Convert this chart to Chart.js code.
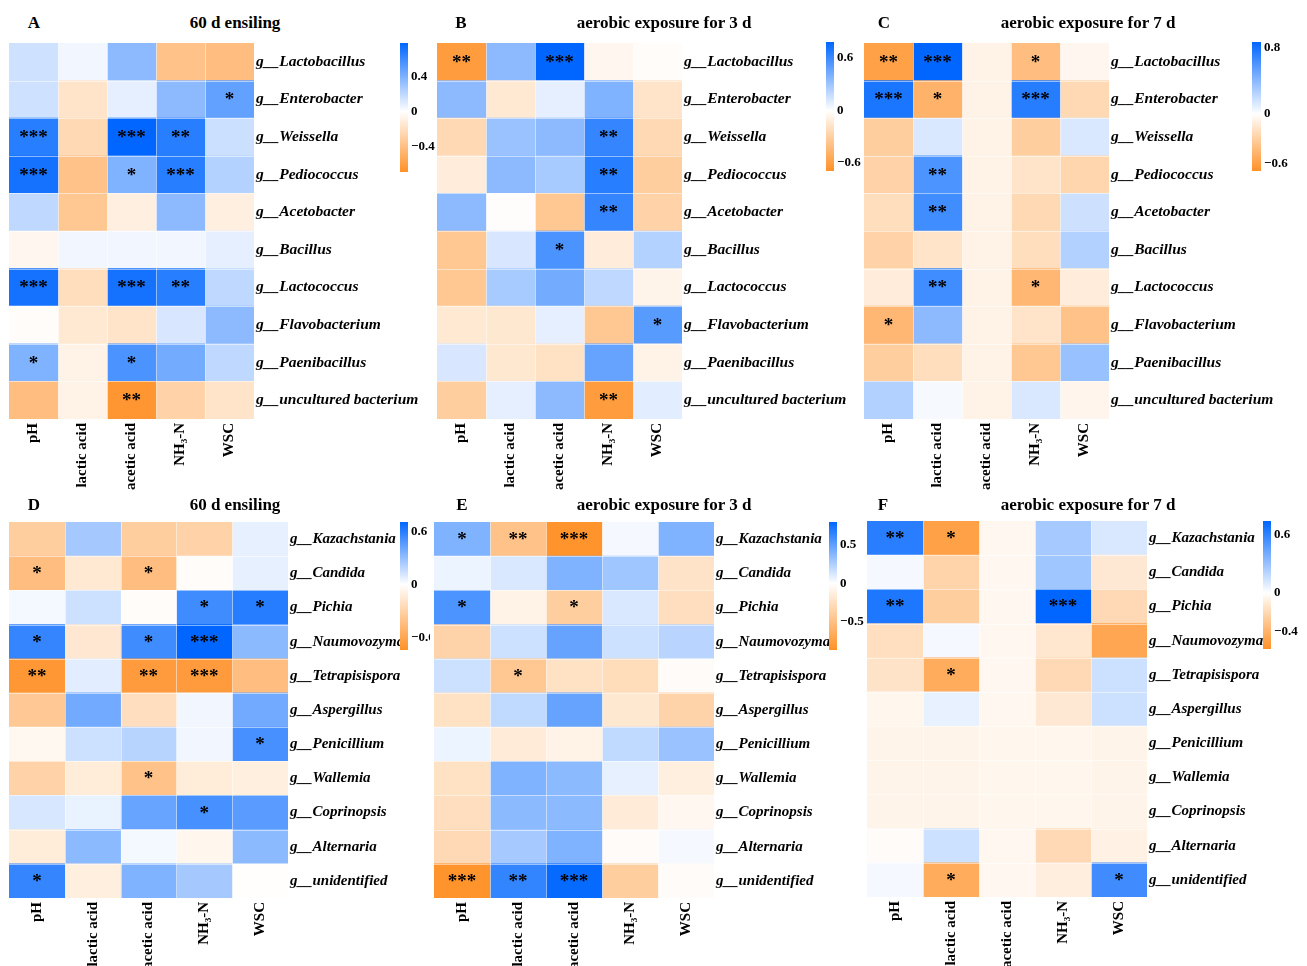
<!DOCTYPE html>
<html>
<head>
<meta charset="utf-8">
<script src="https://cdn.jsdelivr.net/npm/chart.js@4.4.1/dist/chart.umd.min.js"></script>
<style>
  html, body { margin: 0; padding: 0; background: #fff; overflow: hidden; width: 1307px; height: 966px; }
  #fig { position: relative; width: 1307px; height: 966px; overflow: hidden; }
  #fig canvas { position: absolute; }
  .txt { position: absolute; font-family: "Liberation Serif", "Times New Roman", serif; font-weight: bold;
         font-size: 17px; line-height: 20px; white-space: nowrap; transform: translate(-50%, -50%); color: #000; }
</style>
</head>
<body>
<div id="fig"></div>
<script>
// ---- environmental factors (columns) ----
const envCols = ["pH", "lactic acid", "acetic acid", "NH₃-N", "WSC"];

// ---- genera (rows) ----
const bacteriaRows = ["g__Lactobacillus", "g__Enterobacter", "g__Weissella", "g__Pediococcus", "g__Acetobacter",
  "g__Bacillus", "g__Lactococcus", "g__Flavobacterium", "g__Paenibacillus", "g__uncultured bacterium"];
const fungiRows = ["g__Kazachstania", "g__Candida", "g__Pichia", "g__Naumovozyma", "g__Tetrapisispora",
  "g__Aspergillus", "g__Penicillium", "g__Wallemia", "g__Coprinopsis", "g__Alternaria", "g__unidentified"];

// ---- Spearman correlation coefficients (rows x columns) ----
const bacSilage = [
  [0.15, 0.04, 0.35, -0.38, -0.41],
  [0.15, -0.17, 0.08, 0.35, 0.48],
  [0.66, -0.24, 0.78, 0.66, 0.16],
  [0.72, -0.38, 0.39, 0.66, 0.23],
  [0.20, -0.35, -0.10, 0.35, -0.10],
  [-0.05, 0.04, 0.04, 0.04, 0.08],
  [0.72, -0.21, 0.72, 0.66, 0.20],
  [-0.02, -0.14, -0.17, 0.12, 0.35],
  [0.39, -0.08, 0.55, 0.43, 0.20],
  [-0.41, -0.08, -0.66, -0.28, -0.17]
];
const bacAerobic3 = [
  [-0.62, 0.35, 0.78, -0.05, -0.02],
  [0.35, -0.14, 0.08, 0.39, -0.17],
  [-0.24, 0.31, 0.35, 0.62, -0.24],
  [-0.12, 0.35, 0.27, 0.66, -0.31],
  [0.35, -0.01, -0.35, 0.62, -0.28],
  [-0.35, 0.12, 0.55, -0.12, 0.23],
  [-0.35, 0.27, 0.43, 0.20, -0.07],
  [-0.14, -0.15, 0.08, -0.35, 0.51],
  [0.12, -0.15, -0.19, 0.47, -0.08],
  [-0.31, 0.08, 0.35, -0.62, 0.09]
];
const bacAerobic7 = [
  [-0.59, 0.87, -0.08, -0.41, -0.05],
  [0.78, -0.48, -0.08, 0.74, -0.24],
  [-0.31, 0.13, -0.08, -0.31, 0.13],
  [-0.28, 0.61, -0.08, -0.17, -0.26],
  [-0.21, 0.65, -0.08, -0.24, 0.17],
  [-0.28, -0.17, -0.08, -0.21, 0.26],
  [-0.12, 0.65, -0.08, -0.45, -0.12],
  [-0.45, 0.39, -0.08, -0.17, -0.38],
  [-0.31, -0.21, -0.08, -0.35, 0.35],
  [0.26, 0.03, -0.08, 0.13, -0.06]
];
const funSilage = [
  [-0.33, 0.25, -0.33, -0.30, 0.07],
  [-0.44, -0.15, -0.44, -0.02, 0.07],
  [0.03, 0.14, -0.02, 0.53, 0.60],
  [0.56, -0.16, 0.53, 0.705, 0.32],
  [-0.70, 0.08, -0.67, -0.67, -0.44],
  [-0.37, 0.39, -0.22, 0.035, 0.39],
  [-0.05, 0.14, 0.20, 0.035, 0.51],
  [-0.30, -0.13, -0.41, -0.13, -0.11],
  [0.11, 0.06, 0.42, 0.51, 0.46],
  [-0.13, 0.32, 0.03, -0.06, 0.32],
  [0.56, -0.11, 0.35, 0.25, -0.01]
];
const funAerobic3 = [
  [0.40, -0.48, -0.85, 0.03, 0.40],
  [0.06, 0.12, 0.40, 0.30, -0.22],
  [0.56, -0.10, -0.39, 0.12, -0.26],
  [-0.35, 0.16, 0.48, 0.16, 0.22],
  [0.16, -0.44, -0.24, -0.28, -0.03],
  [-0.24, 0.20, 0.48, -0.19, -0.35],
  [0.06, -0.16, -0.10, 0.20, 0.32],
  [-0.24, 0.40, 0.36, 0.08, -0.13],
  [-0.26, 0.36, 0.36, -0.16, -0.06],
  [-0.30, 0.28, 0.40, -0.03, 0.03],
  [-0.85, 0.64, 0.78, -0.39, -0.03]
];
const funAerobic7 = [
  [0.63, -0.50, -0.04, 0.26, 0.11],
  [0.03, -0.23, -0.04, 0.28, -0.12],
  [0.66, -0.26, -0.04, 0.746, -0.20],
  [-0.17, 0.03, -0.04, -0.13, -0.47],
  [-0.15, -0.44, -0.04, -0.20, 0.15],
  [-0.05, 0.07, -0.04, -0.12, 0.15],
  [-0.06, -0.06, -0.05, -0.05, -0.06],
  [-0.06, -0.06, -0.05, -0.05, -0.06],
  [-0.06, -0.06, -0.05, -0.05, -0.06],
  [-0.02, 0.15, -0.04, -0.20, -0.07],
  [0.03, -0.44, -0.04, -0.09, 0.56]
];

// ---- significance marks (* P<0.05, ** P<0.01, *** P<0.001) ----
const bacSilageSig = [
  ["", "", "", "", ""], ["", "", "", "", "*"], ["***", "", "***", "**", ""], ["***", "", "*", "***", ""],
  ["", "", "", "", ""], ["", "", "", "", ""], ["***", "", "***", "**", ""], ["", "", "", "", ""],
  ["*", "", "*", "", ""], ["", "", "**", "", ""]
];
const bacAerobic3Sig = [
  ["**", "", "***", "", ""], ["", "", "", "", ""], ["", "", "", "**", ""], ["", "", "", "**", ""],
  ["", "", "", "**", ""], ["", "", "*", "", ""], ["", "", "", "", ""], ["", "", "", "", "*"],
  ["", "", "", "", ""], ["", "", "", "**", ""]
];
const bacAerobic7Sig = [
  ["**", "***", "", "*", ""], ["***", "*", "", "***", ""], ["", "", "", "", ""], ["", "**", "", "", ""],
  ["", "**", "", "", ""], ["", "", "", "", ""], ["", "**", "", "*", ""], ["*", "", "", "", ""],
  ["", "", "", "", ""], ["", "", "", "", ""]
];
const funSilageSig = [
  ["", "", "", "", ""], ["*", "", "*", "", ""], ["", "", "", "*", "*"], ["*", "", "*", "***", ""],
  ["**", "", "**", "***", ""], ["", "", "", "", ""], ["", "", "", "", "*"], ["", "", "*", "", ""],
  ["", "", "", "*", ""], ["", "", "", "", ""], ["*", "", "", "", ""]
];
const funAerobic3Sig = [
  ["*", "**", "***", "", ""], ["", "", "", "", ""], ["*", "", "*", "", ""], ["", "", "", "", ""],
  ["", "*", "", "", ""], ["", "", "", "", ""], ["", "", "", "", ""], ["", "", "", "", ""],
  ["", "", "", "", ""], ["", "", "", "", ""], ["***", "**", "***", "", ""]
];
const funAerobic7Sig = [
  ["**", "*", "", "", ""], ["", "", "", "", ""], ["**", "", "", "***", ""], ["", "", "", "", ""],
  ["", "*", "", "", ""], ["", "", "", "", ""], ["", "", "", "", ""], ["", "", "", "", ""],
  ["", "", "", "", ""], ["", "", "", "", ""], ["", "*", "", "", "*"]
];

// ---- colour-key ranges and tick labels ----
const keyRangeA = [-0.69, 0.78], keyTicksA = [-0.4, 0, 0.4];
const keyRangeB = [-0.69, 0.78], keyTicksB = [-0.6, 0, 0.6];
const keyRangeC = [-0.69, 0.87], keyTicksC = [-0.6, 0, 0.8];
const keyRangeD = [-0.74, 0.705], keyTicksD = [-0.6, 0, 0.6];
const keyRangeE = [-0.87, 0.80], keyTicksE = [-0.5, 0, 0.5];
const keyRangeF = [-0.583, 0.746], keyTicksF = [-0.4, 0, 0.6];

// ---- panel titles ----
const panelLetters = ["A", "B", "C", "D", "E", "F"];
const panelTitles = ["60 d ensiling", "aerobic exposure for 3 d", "aerobic exposure for 7 d",
  "60 d ensiling", "aerobic exposure for 3 d", "aerobic exposure for 7 d"];

// ---------------------------------------------------------------------
const SERIF = '"Liberation Serif", "Times New Roman", serif';
const BLUE = [0, 102, 255], ORANGE = [255, 145, 40];
const fig = document.getElementById('fig');

function mix(c, t) {
  t = Math.max(0, Math.min(1, t));
  return 'rgb(' + c.map(k => Math.round(255 + (k - 255) * t)).join(',') + ')';
}
function cellColor(v, range) {
  return v >= 0 ? mix(BLUE, v / range[1]) : mix(ORANGE, v / range[0]);
}
function fmtKey(v) {
  if (v === 0) return '0';
  return (v < 0 ? '\u2212' : '') + Math.abs(v).toFixed(1);
}

// thin light separators between cells
const cellLines = {
  id: 'cellLines',
  afterDatasetsDraw(chart) {
    const { ctx, chartArea: a, scales: { x, y } } = chart;
    ctx.save();
    ctx.strokeStyle = 'rgba(255,255,255,0.5)';
    ctx.lineWidth = 1;
    ctx.beginPath();
    for (let j = 1; j < envCols.length; j++) {
      const px = Math.round(x.getPixelForValue(j)) + 0.5;
      ctx.moveTo(px, a.top); ctx.lineTo(px, a.bottom);
    }
    const n = chart.data.labels.length;
    for (let i = 1; i < n; i++) {
      const py = Math.round((y.getPixelForValue(i - 1) + y.getPixelForValue(i)) / 2) + 0.5;
      ctx.moveTo(a.left, py); ctx.lineTo(a.right, py);
    }
    ctx.stroke();
    ctx.restore();
  }
};

// significance asterisks at cell centres
const sigMarks = {
  id: 'sigMarks',
  afterDatasetsDraw(chart) {
    const { ctx } = chart;
    ctx.save();
    ctx.fillStyle = '#000';
    ctx.font = 'bold 19px ' + SERIF;
    ctx.textAlign = 'center';
    ctx.textBaseline = 'alphabetic';
    chart.data.datasets.forEach((ds, j) => {
      chart.getDatasetMeta(j).data.forEach((el, i) => {
        const s = ds.data[i].s;
        if (!s) return;
        ctx.fillText(s, (el.x + el.base) / 2, el.y + 6);
      });
    });
    ctx.restore();
  }
};

function heatmap(p) {
  const labelW = 185, axisH = 80;
  const cv = document.createElement('canvas');
  cv.width = p.width + labelW;
  cv.height = p.height + axisH;
  cv.style.left = p.left + 'px';
  cv.style.top = p.top + 'px';
  fig.appendChild(cv);

  const datasets = envCols.map((col, j) => ({
    label: col,
    data: p.rows.map((r, i) => ({ x: [j, j + 1], y: r, v: p.values[i][j], s: p.sig[i][j] })),
    backgroundColor: ctx => (ctx.raw ? cellColor(ctx.raw.v, p.range) : '#fff'),
    borderWidth: 0,
    barPercentage: 1,
    categoryPercentage: 1,
    grouped: false
  }));

  new Chart(cv, {
    type: 'bar',
    data: { labels: p.rows, datasets },
    options: {
      indexAxis: 'y',
      responsive: false,
      animation: false,
      events: [],
      layout: { padding: 0 },
      plugins: { legend: { display: false }, tooltip: { enabled: false }, title: { display: false } },
      scales: {
        x: {
          type: 'linear', position: 'bottom', min: 0, max: envCols.length,
          grid: { display: false, drawTicks: false }, border: { display: false },
          afterBuildTicks: s => { s.ticks = envCols.map((c, j) => ({ value: j + 0.5 })); },
          ticks: {
            autoSkip: false, minRotation: 90, maxRotation: 90, padding: 4, color: '#000',
            font: { family: SERIF, size: 15, weight: 'bold' },
            callback: (v, i) => envCols[i]
          },
          afterFit: s => { s.height = axisH; s.paddingLeft = 0; s.paddingRight = 0; }
        },
        y: {
          type: 'category', position: 'right',
          grid: { display: false, drawTicks: false }, border: { display: false },
          ticks: {
            autoSkip: false, padding: 2, color: '#000',
            font: { family: SERIF, size: p.rowFont, weight: 'bold', style: 'italic' }
          },
          afterFit: s => { s.width = labelW; s.paddingTop = 0; s.paddingBottom = 0; }
        }
      }
    },
    plugins: [cellLines, sigMarks]
  });
}

function colorKey(k) {
  const pad = 10;
  const cv = document.createElement('canvas');
  cv.width = k.canvasW;
  cv.height = k.height + 2 * pad;
  cv.style.left = k.left + 'px';
  cv.style.top = (k.top - pad) + 'px';
  cv.style.background = '#fff';
  fig.appendChild(cv);
  const [vmin, vmax] = k.range;
  new Chart(cv, {
    type: 'bar',
    data: {
      labels: [''],
      datasets: [{
        data: [[vmin, vmax]],
        barPercentage: 1, categoryPercentage: 1, borderWidth: 0,
        backgroundColor: ctx => {
          const a = ctx.chart.chartArea;
          if (!a) return '#fff';
          const g = ctx.chart.ctx.createLinearGradient(0, a.bottom, 0, a.top);
          g.addColorStop(0, mix(ORANGE, 1));
          g.addColorStop((0 - vmin) / (vmax - vmin), '#ffffff');
          g.addColorStop(1, mix(BLUE, 1));
          return g;
        }
      }]
    },
    options: {
      responsive: false, animation: false, events: [],
      layout: { padding: { top: pad, bottom: pad, left: 0, right: 0 } },
      plugins: { legend: { display: false }, tooltip: { enabled: false } },
      scales: {
        x: { display: false },
        y: {
          position: 'right', min: vmin, max: vmax,
          grid: { display: false, drawTicks: false }, border: { display: false },
          afterBuildTicks: s => { s.ticks = k.ticks.map(v => ({ value: v })); },
          ticks: { padding: 3, color: '#000', font: { family: SERIF, size: 13, weight: 'bold' }, callback: v => fmtKey(v) },
          afterFit: s => { s.width = k.canvasW - k.barW; s.paddingTop = 0; s.paddingBottom = 0; }
        }
      }
    }
  });
}

function text(str, cx, cy) {
  const d = document.createElement('div');
  d.className = 'txt';
  d.textContent = str;
  d.style.left = cx + 'px';
  d.style.top = cy + 'px';
  fig.appendChild(d);
}

// ---- the six panels ----
heatmap({ left: 9,   top: 43,  width: 245, height: 376, rows: bacteriaRows, values: bacSilage,   sig: bacSilageSig,   range: keyRangeA, rowFont: 15.5 });
heatmap({ left: 437, top: 43,  width: 245, height: 376, rows: bacteriaRows, values: bacAerobic3, sig: bacAerobic3Sig, range: keyRangeB, rowFont: 15.5 });
heatmap({ left: 864, top: 43,  width: 245, height: 376, rows: bacteriaRows, values: bacAerobic7, sig: bacAerobic7Sig, range: keyRangeC, rowFont: 15.5 });
heatmap({ left: 9,   top: 522, width: 279, height: 376, rows: fungiRows,    values: funSilage,   sig: funSilageSig,   range: keyRangeD, rowFont: 15 });
heatmap({ left: 434, top: 522, width: 280, height: 376, rows: fungiRows,    values: funAerobic3, sig: funAerobic3Sig, range: keyRangeE, rowFont: 15 });
heatmap({ left: 867, top: 521, width: 280, height: 376, rows: fungiRows,    values: funAerobic7, sig: funAerobic7Sig, range: keyRangeF, rowFont: 15 });

colorKey({ left: 400,  top: 43,  height: 129, barW: 8, canvasW: 37, range: keyRangeA, ticks: keyTicksA });
colorKey({ left: 826,  top: 42,  height: 129, barW: 8, canvasW: 38, range: keyRangeB, ticks: keyTicksB });
colorKey({ left: 1252, top: 42,  height: 129, barW: 9, canvasW: 55, range: keyRangeC, ticks: keyTicksC });
colorKey({ left: 400,  top: 522, height: 128, barW: 8, canvasW: 30, range: keyRangeD, ticks: keyTicksD });
colorKey({ left: 829,  top: 522, height: 128, barW: 8, canvasW: 38, range: keyRangeE, ticks: keyTicksE });
colorKey({ left: 1263, top: 521, height: 128, barW: 8, canvasW: 44, range: keyRangeF, ticks: keyTicksF });

const letterPos = [[34, 23], [461, 23], [884, 23], [34, 505], [462, 505], [883, 505]];
const titlePos = [[235, 23], [664, 23], [1088, 23], [235, 505], [664, 505], [1088, 505]];
panelLetters.forEach((L, i) => text(L, letterPos[i][0], letterPos[i][1]));
panelTitles.forEach((t, i) => text(t, titlePos[i][0], titlePos[i][1]));
</script>
</body>
</html>
